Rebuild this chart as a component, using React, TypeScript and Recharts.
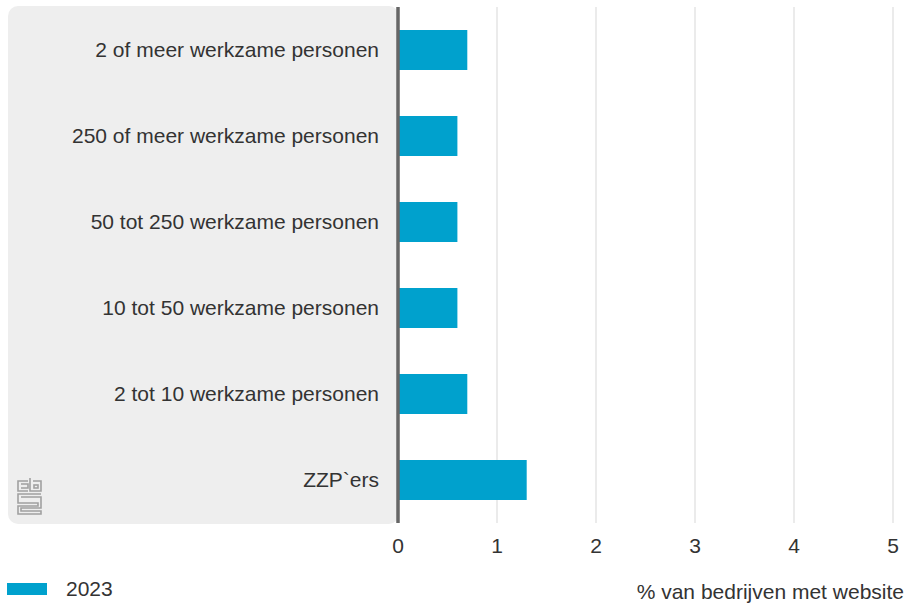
import React from "react";
import { BarChart, Bar, XAxis, YAxis, CartesianGrid, Legend } from "recharts";

const categories = [
  "2 of meer werkzame personen",
  "250 of meer werkzame personen",
  "50 tot 250 werkzame personen",
  "10 tot 50 werkzame personen",
  "2 tot 10 werkzame personen",
  "ZZP`ers",
];
const values2023 = [0.7, 0.6, 0.6, 0.6, 0.7, 1.3];
const xTicks = [0, 1, 2, 3, 4, 5];
const seriesName = "2023";
const axisTitle = "% van bedrijven met website";

const data = categories.map((c, i) => ({ name: c, v2023: values2023[i] }));

const FONT = "'Liberation Sans', Arial, Helvetica, sans-serif";
const TEXT = "#333333";
const BLUE = "#00a1cd";
const FS = 21;

const LegendContent = () => (
  <div
    style={{
      position: "relative",
      width: 909,
      height: 30,
      fontFamily: FONT,
      fontSize: FS,
      color: TEXT,
    }}
  >
    <div style={{ position: "absolute", left: 7, top: 8, width: 40, height: 12, background: BLUE }} />
    <div style={{ position: "absolute", left: 66, top: 2, lineHeight: "24px" }}>{seriesName}</div>
    <div style={{ position: "absolute", right: 5, top: 5, lineHeight: "24px" }}>{axisTitle}</div>
  </div>
);

const Logo = () => (
  <svg width={28} height={40} style={{ position: "absolute", left: 16, top: 477 }}>
    <g fill="none" stroke="#a0a0a0" strokeWidth={1.6}>
      <path d="M12 4 H2 V14 H12" />
      <path d="M5 7 H12 V11 H5" />
      <path d="M14 1 V14 H25 V4 H17" />
      <rect x={18} y={8} width={4} height={3} />
      <path d="M25 17 H2 V26 H22 V29 H2 V37 H25 V34 H5 V31 H25 V20 H5" />
    </g>
  </svg>
);

export default function App() {
  return (
    <div style={{ position: "absolute", left: 0, top: 0, width: 909, height: 605, background: "#fff" }}>
      <div
        style={{
          position: "absolute",
          left: 8,
          top: 6,
          width: 391,
          height: 518,
          background: "#eeeeee",
          borderRadius: 10,
        }}
      />
      <Logo />
      <div style={{ position: "absolute", left: 0, top: 0 }}>
        <BarChart
          width={909}
          height={605}
          data={data}
          layout="vertical"
          margin={{ top: 7, right: 16, bottom: 0, left: 0 }}
          barCategoryGap={23}
        >
          <CartesianGrid horizontal={false} vertical={true} stroke="#ebebeb" strokeWidth={2} />
          <XAxis
            type="number"
            domain={[0, 5]}
            ticks={xTicks}
            axisLine={false}
            tickLine={false}
            tickSize={0}
            tickMargin={15}
            height={52}
            tick={{ fontFamily: FONT, fontSize: FS, fill: TEXT }}
          />
          <YAxis
            type="category"
            dataKey="name"
            width={398}
            axisLine={{ stroke: "#666666", strokeWidth: 3.5 }}
            tickLine={false}
            tickSize={0}
            tickMargin={19}
            tick={{ fontFamily: FONT, fontSize: FS, fill: TEXT }}
          />
          <Legend
            verticalAlign="bottom"
            align="left"
            content={<LegendContent />}
            wrapperStyle={{ left: 0, bottom: 0, width: 909, height: 30 }}
          />
          <Bar dataKey="v2023" name={seriesName} fill={BLUE} barSize={40} isAnimationActive={false} />
        </BarChart>
      </div>
    </div>
  );
}
